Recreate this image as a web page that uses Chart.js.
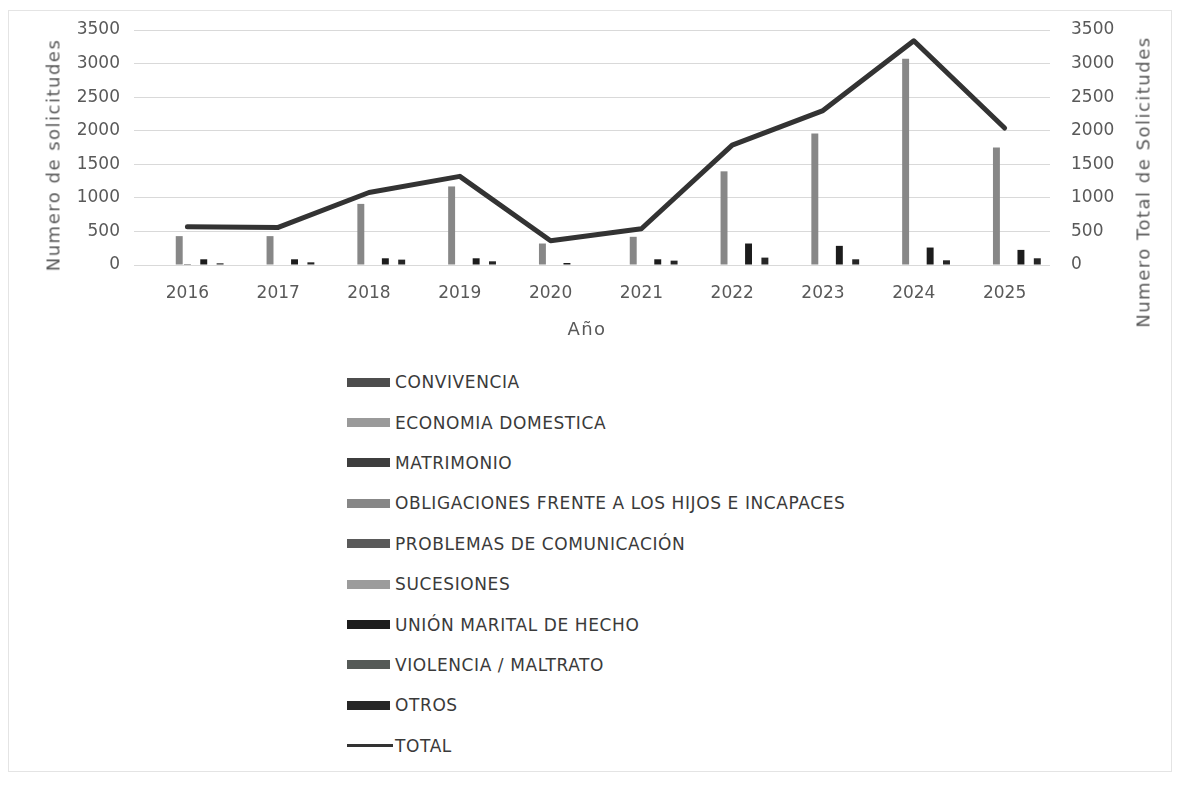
<!DOCTYPE html>
<html>
<head>
<meta charset="utf-8">
<script src="https://cdn.jsdelivr.net/npm/chart.js@4/dist/chart.umd.min.js"></script>
<style>
  body { margin: 0; background: #fff; }
  #frame { position: absolute; left: 8px; top: 10px; width: 1162px; height: 760px; border: 1px solid #e4e4e4; }
  #wrap { position: absolute; left: 0; top: 0; width: 1183px; height: 350px; }
  .atitle { position: absolute; font-family: "DejaVu Sans", sans-serif; font-size: 18px; letter-spacing: 1.5px; color: #595959; white-space: nowrap; }
  .rot { transform: translate(-50%, -50%) rotate(-90deg); }
  #legend { position: absolute; left: 347px; top: 362px; font-family: "DejaVu Sans", sans-serif; font-size: 17px; letter-spacing: 0.6px; color: #3a3a3a; }
  #legend ul { list-style: none; margin: 0; padding: 0; }
  #legend li { display: flex; align-items: center; height: 40.4px; }
  #legend .box { display: inline-block; width: 43px; height: 9px; margin-right: 5px; }
  #legend .ln { display: inline-block; width: 46px; height: 3px; margin-right: 2px; }
</style>
</head>
<body>
<div id="frame"></div>
<div id="wrap"><canvas id="chartSol"></canvas></div>
<div class="atitle rot" style="left:53px; top:155px;">Numero de solicitudes</div>
<div class="atitle rot" style="left:1143px; top:182px;">Numero Total de Solicitudes</div>
<div class="atitle" style="left:587px; top:328px; transform: translate(-50%, -50%);">Año</div>
<div id="legend"></div>
<script>
const years = ['2016', '2017', '2018', '2019', '2020', '2021', '2022', '2023', '2024', '2025'];
const convivencia = [0, 0, 0, 0, 0, 0, 0, 0, 0, 0];
const economiaDomestica = [0, 0, 0, 0, 0, 0, 0, 0, 0, 0];
const matrimonio = [0, 0, 0, 0, 0, 0, 0, 0, 0, 0];
const obligaciones = [430, 430, 910, 1170, 320, 420, 1395, 1960, 3070, 1750];
const problemasComunicacion = [15, 0, 0, 0, 0, 0, 0, 0, 0, 0];
const sucesiones = [0, 0, 0, 0, 0, 0, 0, 0, 0, 0];
const unionMarital = [85, 85, 100, 100, 30, 85, 320, 285, 260, 225];
const violencia = [0, 0, 0, 0, 0, 0, 0, 0, 0, 0];
const otros = [25, 40, 80, 55, 0, 65, 110, 85, 70, 100];
const total = [570, 560, 1080, 1320, 360, 540, 1785, 2300, 3340, 2040];
const yTicks = [0, 500, 1000, 1500, 2000, 2500, 3000, 3500];

const ctx = document.getElementById('chartSol');

function bar(label, data, color) {
    return { type: 'bar', label: label, data: data, backgroundColor: color, yAxisID: 'y', order: 2,
             categoryPercentage: 0.81, barPercentage: 0.85 };
}

// legend drawn as html list, one item per row
const htmlLegend = {
    id: 'htmlLegend',
    afterUpdate(chart) {
        const box = document.getElementById('legend');
        const ul = document.createElement('ul');
        chart.data.datasets.forEach(ds => {
            const li = document.createElement('li');
            const sw = document.createElement('span');
            if (ds.type === 'line') {
                sw.className = 'ln';
                sw.style.background = ds.borderColor;
            } else {
                sw.className = 'box';
                sw.style.background = ds.backgroundColor;
            }
            li.appendChild(sw);
            li.appendChild(document.createTextNode(ds.label));
            ul.appendChild(li);
        });
        box.innerHTML = '';
        box.appendChild(ul);
    }
};

const tickFont = { family: '"DejaVu Sans", sans-serif', size: 17 };

new Chart(ctx, {
    data: {
        labels: years,
        datasets: [
            bar('CONVIVENCIA', convivencia, '#4d4d4d'),
            bar('ECONOMIA DOMESTICA', economiaDomestica, '#9a9a9a'),
            bar('MATRIMONIO', matrimonio, '#3e3e3e'),
            bar('OBLIGACIONES FRENTE A LOS HIJOS E INCAPACES', obligaciones, '#878787'),
            bar('PROBLEMAS DE COMUNICACIÓN', problemasComunicacion, '#5a5a5a'),
            bar('SUCESIONES', sucesiones, '#9c9c9c'),
            bar('UNIÓN MARITAL DE HECHO', unionMarital, '#1c1c1c'),
            bar('VIOLENCIA / MALTRATO', violencia, '#555a57'),
            bar('OTROS', otros, '#262626'),
            {
                type: 'line', label: 'TOTAL', data: total, yAxisID: 'y1', order: 1,
                borderColor: '#333333', borderWidth: 5, pointRadius: 0, tension: 0,
                borderJoinStyle: 'round', borderCapStyle: 'round'
            }
        ]
    },
    options: {
        responsive: true,
        maintainAspectRatio: false,
        animation: false,
        layout: { padding: { left: 0, right: 0, top: 30, bottom: 0 } },
        scales: {
            x: {
                grid: { display: false },
                border: { display: false },
                ticks: { font: tickFont, color: '#595959', padding: 10, maxRotation: 0 },
                afterFit: axis => { axis.height = 85; }
            },
            y: {
                position: 'left',
                min: 0, max: 3500,
                afterBuildTicks: axis => { axis.ticks = yTicks.map(v => ({ value: v })); },
                afterFit: axis => { axis.width = 142; },
                grid: { color: '#d9d9d9' },
                border: { display: false },
                ticks: { font: tickFont, color: '#595959', padding: 14, callback: v => String(v) }
            },
            y1: {
                position: 'right',
                min: 0, max: 3500,
                afterBuildTicks: axis => { axis.ticks = yTicks.map(v => ({ value: v })); },
                afterFit: axis => { axis.width = 133; },
                grid: { display: false },
                border: { display: false },
                ticks: { font: tickFont, color: '#595959', padding: 13, callback: v => String(v) }
            }
        },
        plugins: {
            legend: { display: false },
            tooltip: { enabled: false }
        }
    },
    plugins: [htmlLegend]
});
</script>
</body>
</html>
